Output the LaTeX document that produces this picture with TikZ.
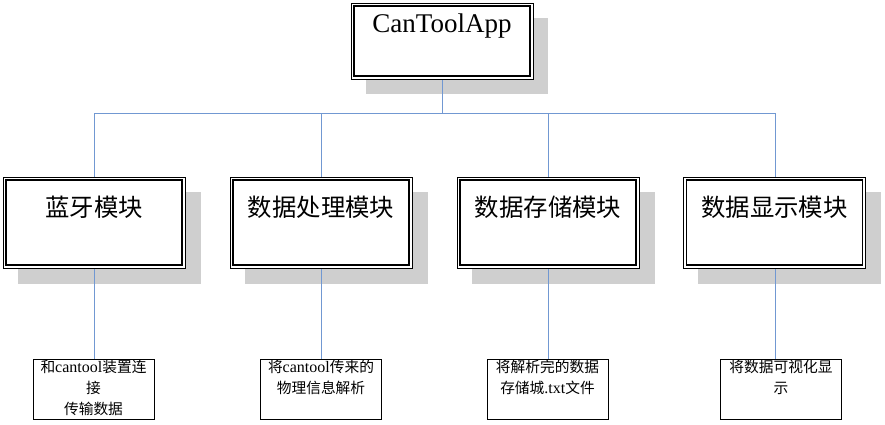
\documentclass[tikz,border=0pt]{standalone}
\usepackage{fontspec}
\setmainfont{Liberation Serif}
\newfontfamily\cjk{Noto Sans CJK SC}[Scale=0.92]
\begin{document}
\begin{tikzpicture}[x=1pt,y=-1pt,
  outerbox/.style={draw=black,line width=0.9pt,fill=white,inner sep=0pt},
  small/.style={draw=black,line width=0.9pt,fill=white,inner sep=0pt,minimum width=121pt,minimum height=60pt},
  txt/.style={inner sep=0pt,align=center},
  btxt/.style={inner sep=0pt,align=center,anchor=north,font=\fontsize{16}{21}\selectfont}
]
\definecolor{linkblue}{HTML}{7198D2}
\tikzset{link/.style={draw=linkblue,line width=1pt}}
\useasboundingbox (0,0) rectangle (885,424);
% shadows
\fill[black!19] (366,18) rectangle (548,94);
\foreach \x in {3,230,457,683} {\fill[black!19] (\x+15,192) rectangle (\x+198,284);}
\coordinate (j) at (442,113);
% connectors (under boxes)
\draw[link] (442,79) -- (j);
\draw[link] (94,113) -- (775,113);
\foreach \x in {94,321,548,775} {\draw[link] (\x,113) -- (\x,177); \draw[link] (\x,268) -- (\x,359);}
% top box
\node[outerbox,minimum width=182pt,minimum height=76pt] (top) at (442,41) {};
\draw[line width=1.6pt] ([shift={(3.5,3.5)}]top.north west) rectangle ([shift={(-3.5,-3.5)}]top.south east);
\node[txt,font=\fontsize{27}{30}\selectfont] (toptext) at (442,26) {CanToolApp};
% module boxes
\foreach \i/\x/\t in {1/94/蓝牙模块,2/321/数据处理模块,3/548/数据存储模块,4/774.5/数据显示模块} {
  \node[outerbox,minimum width=182pt,minimum height=91pt] (m\i) at (\x,222.5) {};
  \draw[line width=1.6pt] ([shift={(3.5,3.5)}]m\i.north west) rectangle ([shift={(-3.5,-3.5)}]m\i.south east);
  \node[txt,font=\cjk\fontsize{26.5}{30}\selectfont] (mt\i) at (\x,207) {\t};
}
% bottom boxes
\node[small] (b1) at (93.5,389) {};
\node[small] (b2) at (321,389) {};
\node[small] (b3) at (547.5,389) {};
\node[small] (b4) at (781,389) {};
\node[btxt] (bt1) at (93.5,359.5) {{\cjk 和}cantool{\cjk 装置连}\\{\cjk 接}\\{\cjk 传输数据}};
\node[btxt] (bt2) at (321,359.5) {{\cjk 将}cantool{\cjk 传来的}\\{\cjk 物理信息解析}};
\node[btxt] (bt3) at (547.5,359.5) {{\cjk 将解析完的数据}\\{\cjk 存储城}.txt{\cjk 文件}};
\node[btxt] (bt4) at (781,359.5) {{\cjk 将数据可视化显}\\{\cjk 示}};
\end{tikzpicture}
\end{document}
